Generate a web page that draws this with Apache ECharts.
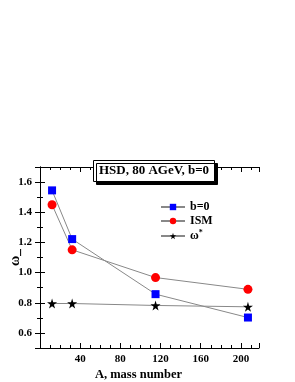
<!DOCTYPE html>
<html><head><meta charset="utf-8">
<script src="https://cdn.jsdelivr.net/npm/echarts@6/dist/echarts.min.js"></script>
<style>html,body{margin:0;padding:0;background:#fff}#c{width:295px;height:382px}</style>
</head><body><div id="c"></div>
<script>
var massNumbers = [12, 32, 115, 207];
var b0Values = [1.545, 1.222, 0.857, 0.702];
var ismValues = [1.45, 1.151, 0.967, 0.889];
var omegaStarValues = [0.795, 0.795, 0.782, 0.773];
var xTicks = [40, 80, 120, 160, 200];
var yTicks = [0.6, 0.8, 1.0, 1.2, 1.4, 1.6];

function pairs(xs, ys){ return xs.map(function(x,i){ return [x, ys[i]]; }); }
var FONT = 'Liberation Serif';
var starPath = 'path://M50,0 L61,35 L98,35 L68,57 L79,91 L50,70 L21,91 L32,57 L2,35 L39,35 Z';

var chart = echarts.init(document.getElementById('c'));
var axisCommon = {
  axisLine:{lineStyle:{color:'#000', width:1}},
  axisTick:{inside:true, length:5, lineStyle:{color:'#000'}},
  splitLine:{show:false}
};
chart.setOption({
  animation:false,
  title:{
    text:'HSD, 80 AGeV, b=0', left:93, top:160,
    padding:[4,6,5,6],
    backgroundColor:'#fff', borderColor:'#000', borderWidth:1,
    shadowColor:'#000', shadowOffsetX:3, shadowOffsetY:3, shadowBlur:0,
    textStyle:{fontFamily:FONT, fontWeight:'bold', fontSize:13, color:'#000'}
  },
  legend:{
    orient:'vertical', left:155, top:196, itemGap:2, itemWidth:24, itemHeight:8,
    textStyle:{fontFamily:FONT, fontWeight:'bold', fontSize:12, color:'#000',
      rich:{s:{fontSize:8, fontFamily:FONT, fontWeight:'bold', verticalAlign:'top', padding:[0,0,6,0]}}},
    formatter:function(n){ return n === 'omega' ? 'ω{s|*}' : n; },
    data:['b=0','ISM','omega']
  },
  grid:{left:40, right:36, top:167, bottom:34, outerBoundsMode:'none', containLabel:false},
  xAxis:[
    Object.assign({type:'value', min:0, max:218, interval:40,
      name:'A, mass number', nameLocation:'middle', nameGap:20, nameMoveOverlap:false,
      nameTextStyle:{fontFamily:FONT, fontWeight:'bold', fontSize:12.5, color:'#000', padding:[0,22,0,0]},
      axisLabel:{showMinLabel:false, showMaxLabel:false, margin:6,
        fontFamily:FONT, fontWeight:'bold', fontSize:11, color:'#000',
        formatter:function(v){ return xTicks.indexOf(v) >= 0 ? String(v) : ''; }},
      minorTick:{show:true, splitNumber:4, length:3, lineStyle:{color:'#000'}}
    }, axisCommon),
    Object.assign({type:'value', min:0, max:218, interval:40, position:'top',
      axisLabel:{show:false},
      minorTick:{show:true, splitNumber:4, length:3, lineStyle:{color:'#000'}}
    }, axisCommon)
  ],
  yAxis:[
    Object.assign({type:'value', min:0.5, max:1.7, splitNumber:6,
      name:'ω_', nameLocation:'middle', nameGap:18, nameRotate:90, nameMoveOverlap:false,
      nameTextStyle:{fontFamily:FONT, fontWeight:'bold', fontSize:14, color:'#000'},
      axisLabel:{showMinLabel:false, showMaxLabel:false, margin:8,
        fontFamily:FONT, fontWeight:'bold', fontSize:11, color:'#000',
        formatter:function(v){ var r = Math.round(v*10)/10; return yTicks.indexOf(r) >= 0 ? r.toFixed(1) : ''; }},
      minorTick:{show:true, splitNumber:2, length:3, lineStyle:{color:'#000'}}
    }, axisCommon),
    Object.assign({type:'value', min:0.5, max:1.7, splitNumber:6, position:'right',
      axisLabel:{show:false},
      minorTick:{show:true, splitNumber:2, length:3, lineStyle:{color:'#000'}}
    }, axisCommon)
  ],
  series:[
    {name:'b=0', type:'line', data:pairs(massNumbers,b0Values), symbol:'rect', symbolSize:8,
      lineStyle:{color:'#888', width:1}, itemStyle:{color:'#0000ff'}},
    {name:'ISM', type:'line', data:pairs(massNumbers,ismValues), symbol:'circle', symbolSize:9,
      lineStyle:{color:'#888', width:1}, itemStyle:{color:'#ff0000'}},
    {name:'omega', type:'line', data:pairs(massNumbers,omegaStarValues), symbol:starPath, symbolSize:10,
      lineStyle:{color:'#888', width:1}, itemStyle:{color:'#000'}}
  ]
});
</script></body></html>
